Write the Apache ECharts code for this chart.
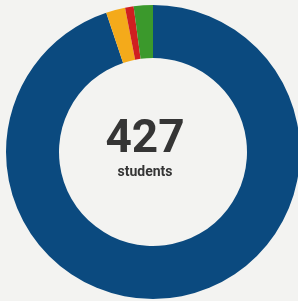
<!DOCTYPE html>
<html><head><meta charset="utf-8">
<script src="https://cdn.jsdelivr.net/npm/echarts@6/dist/echarts.min.js"></script>
<style>html,body{margin:0;padding:0;background:#f3f3f1;}#c{width:298px;height:301px;}</style>
</head><body><div id="c"></div>
<script>
const categories = ['Group A', 'Group B', 'Group C', 'Group D'];
const values = [405, 9, 4, 9];
const colors = ['#0b4a7f', '#f4aa1a', '#d01f20', '#3b992c'];
const total = values.reduce((a, b) => a + b, 0);
const chart = echarts.init(document.getElementById('c'));
chart.setOption({
  backgroundColor: '#f3f3f1',
  animation: false,
  series: [{
    type: 'pie',
    center: [153, 152],
    radius: [94, 147],
    startAngle: 90,
    clockwise: true,
    label: { show: false },
    labelLine: { show: false },
    silent: true,
    data: categories.map((c, i) => ({ name: c, value: values[i], itemStyle: { color: colors[i] } }))
  }],
  graphic: [
    { type: 'text', x: 145, y: 117, style: { text: String(total), font: 'bold 46px Roboto', fill: '#353535', textAlign: 'center' } },
    { type: 'text', x: 145, y: 165, style: { text: 'students', font: 'bold 14px Roboto', fill: '#353535', textAlign: 'center' } }
  ]
});
</script></body></html>
